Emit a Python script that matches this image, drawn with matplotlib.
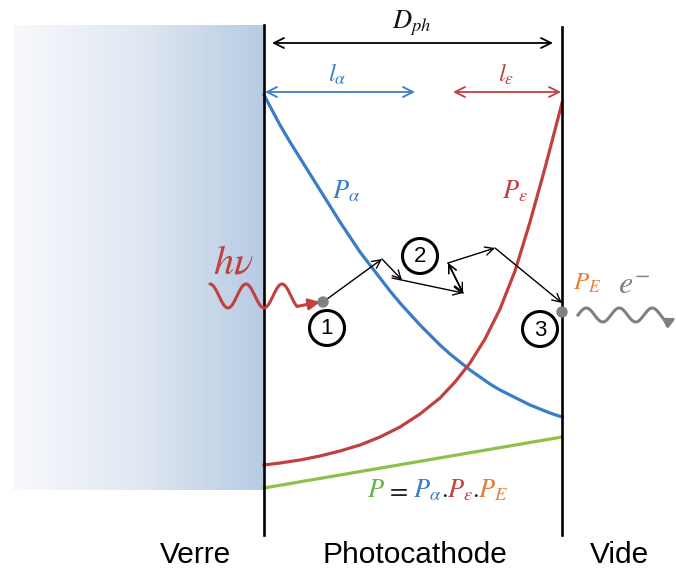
import numpy as np
import matplotlib
matplotlib.use("Agg")
import matplotlib.pyplot as plt
from matplotlib.patches import Circle
from matplotlib.colors import LinearSegmentedColormap

plt.rcParams['mathtext.fontset'] = 'stix'
plt.rcParams['font.family'] = ['Liberation Sans', 'DejaVu Sans']

# ---- data (pixel frame of the schematic) ----
blue_x = [264, 272, 280, 290, 300, 310, 320, 330, 340, 350, 360, 370, 380, 390, 400, 410,
          420, 430, 440, 450, 460, 470, 480, 490, 500, 510, 520, 530, 540, 550, 562]
blue_y = [95, 110, 125, 142, 158, 174, 190, 206, 222, 237, 252, 265, 278, 291, 303, 314,
          325, 335, 345, 354, 362, 370, 377, 384, 390, 395, 400, 405, 409, 413, 417]
red_x = [264, 280, 300, 320, 340, 360, 380, 400, 420, 440, 455, 470, 485, 500, 515, 530, 545, 562]
red_y = [465, 463, 460, 456, 451, 445, 437, 427, 414, 398, 382, 363, 339, 309, 271, 222, 168, 103]
green_x = [264, 562]
green_y = [488, 437]
path_x = [323, 382, 402]
path_y = [302, 259, 280]
path2_x = [392, 463, 448, 495, 562]
path2_y = [278, 293, 263, 248, 303]
region_labels = ["Verre", "Photocathode", "Vide"]
region_x = [195, 415, 620]

BLUE = '#3b7dc4'
RED = '#c0413f'
GREEN = '#8fc04a'
ORANGE = '#ec7a35'
GRAY = '#808080'

fig = plt.figure(figsize=(6.76, 5.70), dpi=100)
ax = fig.add_axes([0, 0, 1, 1])
ax.set_xlim(0, 676)
ax.set_ylim(570, 0)
ax.axis('off')

# glass gradient
grad = np.linspace(0, 1, 256)[None, :]
cmap = LinearSegmentedColormap.from_list('glass', ['#f8f9fc', '#e0e8f2', '#b7cbe3'])
ax.imshow(grad, cmap=cmap, extent=[13, 264, 490, 25], aspect='auto', zorder=0)

# boundaries
ax.plot([264, 264], [25, 535], color='black', lw=1.9, zorder=3)
ax.plot([562, 562], [27, 535], color='black', lw=1.9, zorder=3)

# curves
ax.plot(blue_x, blue_y, color=BLUE, lw=2.3, zorder=2)
ax.plot(red_x, red_y, color=RED, lw=2.3, zorder=2)
ax.plot(green_x, green_y, color=GREEN, lw=2.3, zorder=2)

def arrow(x0, y0, x1, y1, color='black', style='->', lw=1.0, ms=15):
    ax.annotate('', xy=(x1, y1), xytext=(x0, y0),
                arrowprops=dict(arrowstyle=style, color=color, lw=lw,
                                shrinkA=0, shrinkB=0, mutation_scale=ms),
                zorder=4)

# dimension arrows
arrow(272, 43, 553, 43, 'black', '<->', 1.3, 18)
arrow(265, 92, 415, 92, BLUE, '<->', 1.3, 18)
arrow(453, 92, 561, 92, RED, '<->', 1.3, 18)
ax.text(412, 28, r'$D_{ph}$', fontsize=19, ha='center', va='baseline', color='#111111')
ax.text(328, 82, r'$l_{\alpha}$', fontsize=18, ha='left', va='baseline', color=BLUE)
ax.text(498, 82, r'$l_{\varepsilon}$', fontsize=18, ha='left', va='baseline', color=RED)

ax.text(332, 198, r'$P_{\alpha}$', fontsize=19, ha='left', va='baseline', color=BLUE)
ax.text(502, 198, r'$P_{\varepsilon}$', fontsize=19, ha='left', va='baseline', color=RED)

# photon
wx = np.linspace(210, 297, 300)
wy = 296 - 12 * np.cos((wx - 210) / 36.0 * 2 * np.pi)
ax.plot(wx, wy, color=RED, lw=2.2, zorder=3, solid_capstyle='round')
arrow(wx[-1], wy[-1], 320, 302, RED, '-|>', 2.2, 16)
ax.text(213, 273, r'$h\nu$', fontsize=29, ha='left', va='baseline', color=RED)

# electron random path
for i in range(len(path_x) - 1):
    arrow(path_x[i], path_y[i], path_x[i + 1], path_y[i + 1])
for i in range(len(path2_x) - 1):
    arrow(path2_x[i], path2_y[i], path2_x[i + 1], path2_y[i + 1])
arrow(463, 293, 448, 263)
arrow(448, 263, 463, 293)

ax.add_patch(Circle((323, 302), 5, color=GRAY, zorder=5))
ax.add_patch(Circle((562, 312), 5, color=GRAY, zorder=5))

# numbered circles
for (cx, cy, lab) in [(327, 328, '1'), (420, 256, '2'), (540, 329, '3')]:
    ax.add_patch(Circle((cx, cy), 17.5, facecolor='white', edgecolor='black', lw=2.2, zorder=5))
    ax.text(cx, cy + 1, lab, fontsize=16, ha='center', va='center', zorder=6)

# exiting electron
ex = np.linspace(578, 668, 300)
ey = 315 - 7 * np.sin((ex - 578) / 33.0 * 2 * np.pi)
ax.plot(ex, ey, color=GRAY, lw=2.2, zorder=3)
arrow(ex[-1], ey[-1], 676, 318, GRAY, '-|>', 2.2, 14)
ax.text(573, 290, r'$P_{E}$', fontsize=18, ha='left', va='baseline', color=ORANGE)
ax.text(618, 294, r'$e^{-}$', fontsize=23, ha='left', va='baseline', color=GRAY)

# product formula
fs = 19
ax.text(367, 497, r'$P$', fontsize=fs, ha='left', va='baseline', color='#6ab04c')
ax.text(386, 497, r'$=$', fontsize=fs, ha='left', va='baseline', color='#222222')
ax.text(413, 497, r'$P_{\alpha}$', fontsize=fs, ha='left', va='baseline', color=BLUE)
ax.text(441, 497, r'$.$', fontsize=fs, ha='left', va='baseline', color='#222222')
ax.text(447, 497, r'$P_{\varepsilon}$', fontsize=fs, ha='left', va='baseline', color=RED)
ax.text(472, 497, r'$.$', fontsize=fs, ha='left', va='baseline', color='#222222')
ax.text(478, 497, r'$P_{E}$', fontsize=fs, ha='left', va='baseline', color=ORANGE)

for lab, x in zip(region_labels, region_x):
    ax.text(x, 563, lab, fontsize=21.5, ha='center', va='baseline', color='black')

fig.savefig('out.png', dpi=100)
